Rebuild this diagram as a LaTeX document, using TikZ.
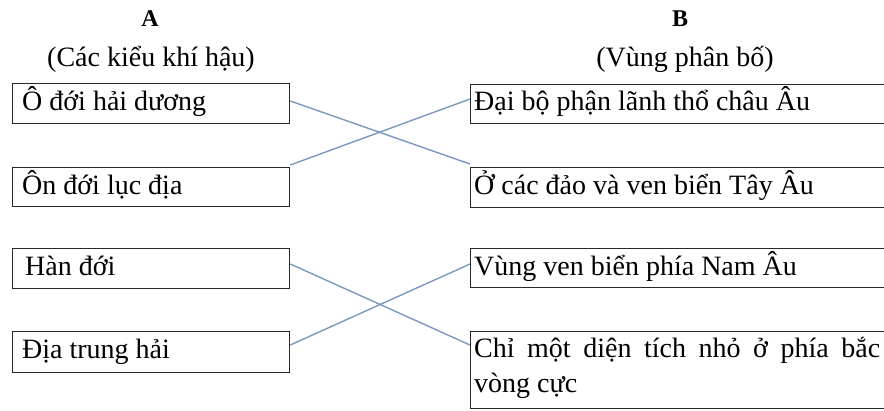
\documentclass[tikz,border=0pt]{standalone}
\usepackage{fontspec}
\setmainfont{Liberation Serif}
\usetikzlibrary{calc}
\definecolor{linkblue}{RGB}{122,152,192}
\definecolor{boxline}{RGB}{40,40,40}
\tikzset{
  box/.style={draw=boxline, line width=1.3pt, anchor=north west, inner sep=0pt},
  lbl/.style={anchor=base west, inner sep=0pt, font=\fontsize{28}{34}\selectfont},
  head/.style={anchor=base, inner sep=0pt, font=\fontsize{28}{34}\selectfont},
  link/.style={draw=linkblue, line width=1.4pt}
}
\begin{document}
\begin{tikzpicture}[x=1pt, y=-1pt]
\useasboundingbox (0,0) rectangle (884,410);
% headers
\node[head, font=\fontsize{24}{28}\selectfont\bfseries] (hA) at (150,26) {A};
\node[head] (hA2) at (151,66) {(Các kiểu khí hậu)};
\node[head, font=\fontsize{24}{28}\selectfont\bfseries] (hB) at (680,26) {B};
\node[head] (hB2) at (685,66) {(Vùng phân bố)};
% left boxes
\node[box, minimum width=277pt, minimum height=40pt] (l1) at (12,83) {};
\node[box, minimum width=277pt, minimum height=39pt] (l2) at (12,167) {};
\node[box, minimum width=277pt, minimum height=40pt] (l3) at (12,248) {};
\node[box, minimum width=277pt, minimum height=41pt] (l4) at (12,331) {};
\node[lbl] (t1) at (22,110) {Ô đới hải dương};
\node[lbl] (t2) at (22,194) {Ôn đới lục địa};
\node[lbl] (t3) at (25,275) {Hàn đới};
\node[lbl] (t4) at (22,358) {Địa trung hải};
% right boxes
\node[box, minimum width=440pt, minimum height=39pt] (r1) at (470,84) {};
\node[box, minimum width=440pt, minimum height=40pt] (r2) at (470,167) {};
\node[box, minimum width=440pt, minimum height=39pt] (r3) at (470,248) {};
\node[box, minimum width=440pt, minimum height=77pt] (r4) at (470,331) {};
\node[lbl] (u1) at (474,110) {Đại bộ phận lãnh thổ châu Âu};
\node[lbl] (u2) at (474,194) {Ở các đảo và ven biển Tây Âu};
\node[lbl] (u3) at (474,275) {Vùng ven biển phía Nam Âu};
\node[lbl] (u4) at (474,357) {\makebox[406pt][s]{Chỉ một diện tích nhỏ ở phía bắc}};
\node[lbl] (u5) at (474,392) {vòng cực};
% connector endpoints
\coordinate (a1) at ($(l1.north east)+(0,18)$);
\coordinate (a2) at ($(l2.north east)+(0,-2)$);
\coordinate (b1) at ($(r1.north west)+(0,15)$);
\coordinate (b2) at ($(r2.north west)+(0,-3)$);
\coordinate (a3) at ($(l3.north east)+(0,16)$);
\coordinate (a4) at ($(l4.north east)+(0,14)$);
\coordinate (b3) at ($(r3.north west)+(0,16)$);
\coordinate (b4) at ($(r4.north west)+(0,14)$);
\draw[link] (a1) -- (b2);
\draw[link] (a2) -- (b1);
\draw[link] (a3) -- (b4);
\draw[link] (a4) -- (b3);
\end{tikzpicture}
\end{document}
